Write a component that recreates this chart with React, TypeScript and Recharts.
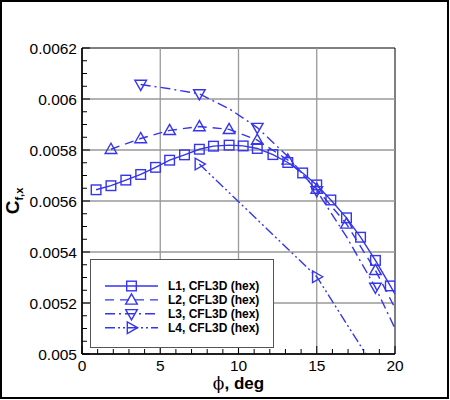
import React from 'react';
import { LineChart, Line, XAxis, YAxis, ReferenceLine, ReferenceArea } from 'recharts';

// ---- data ----
const L1_X = [0.9, 1.85, 2.8, 3.75, 4.7, 5.6, 6.55, 7.5, 8.4, 9.4, 10.3, 11.2, 12.2, 13.15, 14.1, 15.0, 15.9, 16.9, 17.8, 18.75, 19.7];
const L1_Y = [0.005644, 0.00566, 0.005682, 0.005704, 0.005732, 0.00576, 0.005781, 0.005803, 0.005815, 0.005819, 0.005816, 0.005806, 0.005782, 0.005751, 0.00571, 0.005663, 0.005604, 0.005534, 0.005458, 0.005367, 0.005267];
const L1_TAIL_X = [20];
const L1_TAIL_Y = [0.005235];

const L2_X = [1.85, 3.75, 5.6, 7.5, 9.4, 11.2, 13.15, 15.0, 16.9, 18.75];
const L2_Y = [0.005803, 0.005845, 0.005877, 0.005892, 0.005881, 0.005839, 0.005761, 0.005647, 0.00551, 0.005328];
const L2_TAIL_X = [20];
const L2_TAIL_Y = [0.00518];

const L3_X = [3.75, 7.5, 11.2, 15.0, 18.75];
const L3_Y = [0.006057, 0.00602, 0.005888, 0.00564, 0.005261];
const L3_TAIL_X = [5.6, 9.4, 13.15, 16.9, 20];
const L3_TAIL_Y = [0.00604, 0.005962, 0.005775, 0.00546, 0.0051];

const L4_X = [7.5, 15.0];
const L4_Y = [0.005745, 0.005303];
const L4_TAIL_X = [18.75];
const L4_TAIL_Y = [0.00494];

const SERIES_NAMES = ['L1, CFL3D (hex)', 'L2, CFL3D (hex)', 'L3, CFL3D (hex)', 'L4, CFL3D (hex)'];

const X_MAJOR = [0, 5, 10, 15, 20];
const Y_MAJOR = [0.005, 0.0052, 0.0054, 0.0056, 0.0058, 0.006, 0.0062];
const Y_LABELS = ['0.005', '0.0052', '0.0054', '0.0056', '0.0058', '0.006', '0.0062'];

// ---- styling ----
const BLUE = '#3535ee';
const FONT = '"Liberation Sans", Arial, Helvetica, sans-serif';
const DASHES = [undefined, '9 6', '10 4 2 4', '10 3 2 3 2 3'];
const SHAPES = ['square', 'up', 'down', 'right'];

function build(xs: number[], ys: number[], tx: number[], ty: number[]) {
  const pts = xs.map((x, i) => ({ x, y: ys[i], m: true }));
  const tail = tx.map((x, i) => ({ x, y: ty[i], m: false }));
  return [...pts, ...tail].sort((a, b) => a.x - b.x);
}

const SERIES = [
  build(L1_X, L1_Y, L1_TAIL_X, L1_TAIL_Y),
  build(L2_X, L2_Y, L2_TAIL_X, L2_TAIL_Y),
  build(L3_X, L3_Y, L3_TAIL_X, L3_TAIL_Y),
  build(L4_X, L4_Y, L4_TAIL_X, L4_TAIL_Y),
];

// minor ticks derived from majors
const X_TICKS: number[] = [];
for (let i = 0; i < X_MAJOR.length - 1; i++) {
  const a = X_MAJOR[i], b = X_MAJOR[i + 1];
  for (let k = 0; k < 5; k++) X_TICKS.push(a + ((b - a) * k) / 5);
}
X_TICKS.push(X_MAJOR[X_MAJOR.length - 1]);
const Y_TICKS: number[] = [];
for (let i = 0; i < Y_MAJOR.length - 1; i++) {
  const a = Y_MAJOR[i], b = Y_MAJOR[i + 1];
  for (let k = 0; k < 4; k++) Y_TICKS.push(a + ((b - a) * k) / 4);
}
Y_TICKS.push(Y_MAJOR[Y_MAJOR.length - 1]);

function Marker({ shape, cx, cy }: { shape: string; cx: number; cy: number }) {
  const s = 4.8;
  const common = { fill: 'none', stroke: BLUE, strokeWidth: 1.4 };
  if (shape === 'square') return <rect x={cx - s} y={cy - s} width={2 * s} height={2 * s} {...common} />;
  if (shape === 'up') return <polygon points={`${cx},${cy - 6} ${cx - 5.8},${cy + 4.2} ${cx + 5.8},${cy + 4.2}`} {...common} />;
  if (shape === 'down') return <polygon points={`${cx},${cy + 6} ${cx - 5.8},${cy - 4.2} ${cx + 5.8},${cy - 4.2}`} {...common} />;
  return <polygon points={`${cx + 6},${cy} ${cx - 4.2},${cy - 5.8} ${cx - 4.2},${cy + 5.8}`} {...common} />;
}

function makeDot(shape: string) {
  return (props: any) => {
    const { cx, cy, payload, index } = props;
    if (!payload || !payload.m || cx == null || cy == null) return <g key={`n${index}`} />;
    return (
      <g key={`d${index}`}>
        <Marker shape={shape} cx={cx} cy={cy} />
      </g>
    );
  };
}

function isMajorX(v: number) {
  return X_MAJOR.some((m) => Math.abs(m - v) < 1e-9);
}
function majorYIndex(v: number) {
  return Y_MAJOR.findIndex((m) => Math.abs(m - v) < 1e-9);
}

function XTick(props: any) {
  const { x, y, payload } = props;
  const v = payload.value;
  const major = isMajorX(v);
  return (
    <g>
      <line x1={x} x2={x} y1={y} y2={y - (major ? 8 : 5)} stroke="#000" strokeWidth={1} />
      {major && (
        <text x={x} y={y + 17} textAnchor="middle" fontFamily={FONT} fontSize={15.5} fill="#000">
          {String(v)}
        </text>
      )}
    </g>
  );
}

function YTick(props: any) {
  const { x, y, payload } = props;
  const idx = majorYIndex(payload.value);
  const major = idx >= 0;
  return (
    <g>
      <line x1={x} x2={x + (major ? 8 : 5)} y1={y} y2={y} stroke="#000" strokeWidth={1} />
      {major && (
        <text x={x - 5} y={y + 5.5} textAnchor="end" fontFamily={FONT} fontSize={15.5} fill="#000">
          {Y_LABELS[idx]}
        </text>
      )}
    </g>
  );
}

function YTitle(props: any) {
  const vb = props.viewBox || { x: 0, y: 48, width: 82, height: 306 };
  const cx = vb.x + 19;
  const cy = vb.y + vb.height / 2;
  return (
    <text x={cx} y={cy} transform={`rotate(-90 ${cx} ${cy})`} textAnchor="middle" fontFamily={FONT} fontWeight="bold" fill="#000">
      <tspan fontSize={19}>C</tspan>
      <tspan fontSize={11} dy={4}>f,x</tspan>
    </text>
  );
}

function XTitle(props: any) {
  const vb = props.viewBox || { x: 82, y: 354, width: 313, height: 46 };
  const cx = vb.x + vb.width / 2;
  const cy = vb.y + 35;
  return (
    <text x={cx} y={cy} textAnchor="middle" fontFamily={FONT} fontWeight="bold" fontSize={17} fill="#000">
      <tspan fontFamily='"DejaVu Serif", serif' fontWeight="normal" fontSize={17}>ϕ</tspan>
      <tspan>, deg</tspan>
    </text>
  );
}

function LegendBox() {
  return (
    <div
      style={{
        position: 'absolute',
        left: 90,
        top: 259,
        width: 184,
        height: 89,
        boxSizing: 'border-box',
        border: '1px solid #555',
        background: '#fff',
      }}
    >
      <svg width={184} height={89} style={{ position: 'absolute', left: -1, top: -1 }}>
        {SERIES_NAMES.map((name, i) => {
          const y = 27 + i * 13.9;
          return (
            <g key={name}>
              <line x1={15} x2={68} y1={y} y2={y} stroke={BLUE} strokeWidth={1.4} strokeDasharray={DASHES[i]} />
              <Marker shape={SHAPES[i]} cx={41.5} cy={y} />
              <text x={78} y={y + 4.3} fontFamily={FONT} fontWeight="bold" fontSize={12} fill="#000">
                {name}
              </text>
            </g>
          );
        })}
      </svg>
    </div>
  );
}

export default function App() {
  return (
    <div style={{ position: 'absolute', left: 0, top: 0, width: 450, height: 400, background: '#fff' }}>
      <div
        style={{
          position: 'absolute',
          left: 0,
          top: 0,
          width: 449,
          height: 399,
          boxSizing: 'border-box',
          border: '2px solid #000',
        }}
      />
      <div style={{ position: 'absolute', left: 0, top: 0 }}>
        <LineChart width={450} height={400} margin={{ top: 48, right: 55, bottom: 0, left: 0 }}>
          <XAxis
            type="number"
            dataKey="x"
            domain={[0, 20]}
            allowDataOverflow
            ticks={X_TICKS}
            interval={0}
            tickSize={0}
            tickMargin={0}
            tickLine={false}
            tick={XTick}
            height={46}
            axisLine={{ stroke: '#000', strokeWidth: 1.5 }}
            label={{ content: XTitle }}
          />
          <YAxis
            type="number"
            dataKey="y"
            domain={[0.005, 0.0062]}
            allowDataOverflow
            ticks={Y_TICKS}
            interval={0}
            tickSize={0}
            tickMargin={0}
            tickLine={false}
            tick={YTick}
            width={82}
            axisLine={{ stroke: '#000', strokeWidth: 1.5 }}
            label={{ content: YTitle }}
          />
          {X_MAJOR.slice(1, -1).map((v) => (
            <ReferenceLine key={`gx${v}`} x={v} stroke="#999" strokeWidth={1.3} />
          ))}
          {Y_MAJOR.slice(1, -1).map((v) => (
            <ReferenceLine key={`gy${v}`} y={v} stroke="#999" strokeWidth={1.3} />
          ))}
          <ReferenceArea x1={0} x2={20} y1={0.005} y2={0.0062} fill="none" stroke="#000" strokeWidth={1} />
          {SERIES.map((data, i) => (
            <Line
              key={`s${i}`}
              data={data}
              dataKey="y"
              type="linear"
              stroke={BLUE}
              strokeWidth={1.4}
              strokeDasharray={DASHES[i]}
              dot={makeDot(SHAPES[i])}
              activeDot={false}
              isAnimationActive={false}
              legendType="none"
            />
          ))}
        </LineChart>
      </div>
      <LegendBox />
    </div>
  );
}
